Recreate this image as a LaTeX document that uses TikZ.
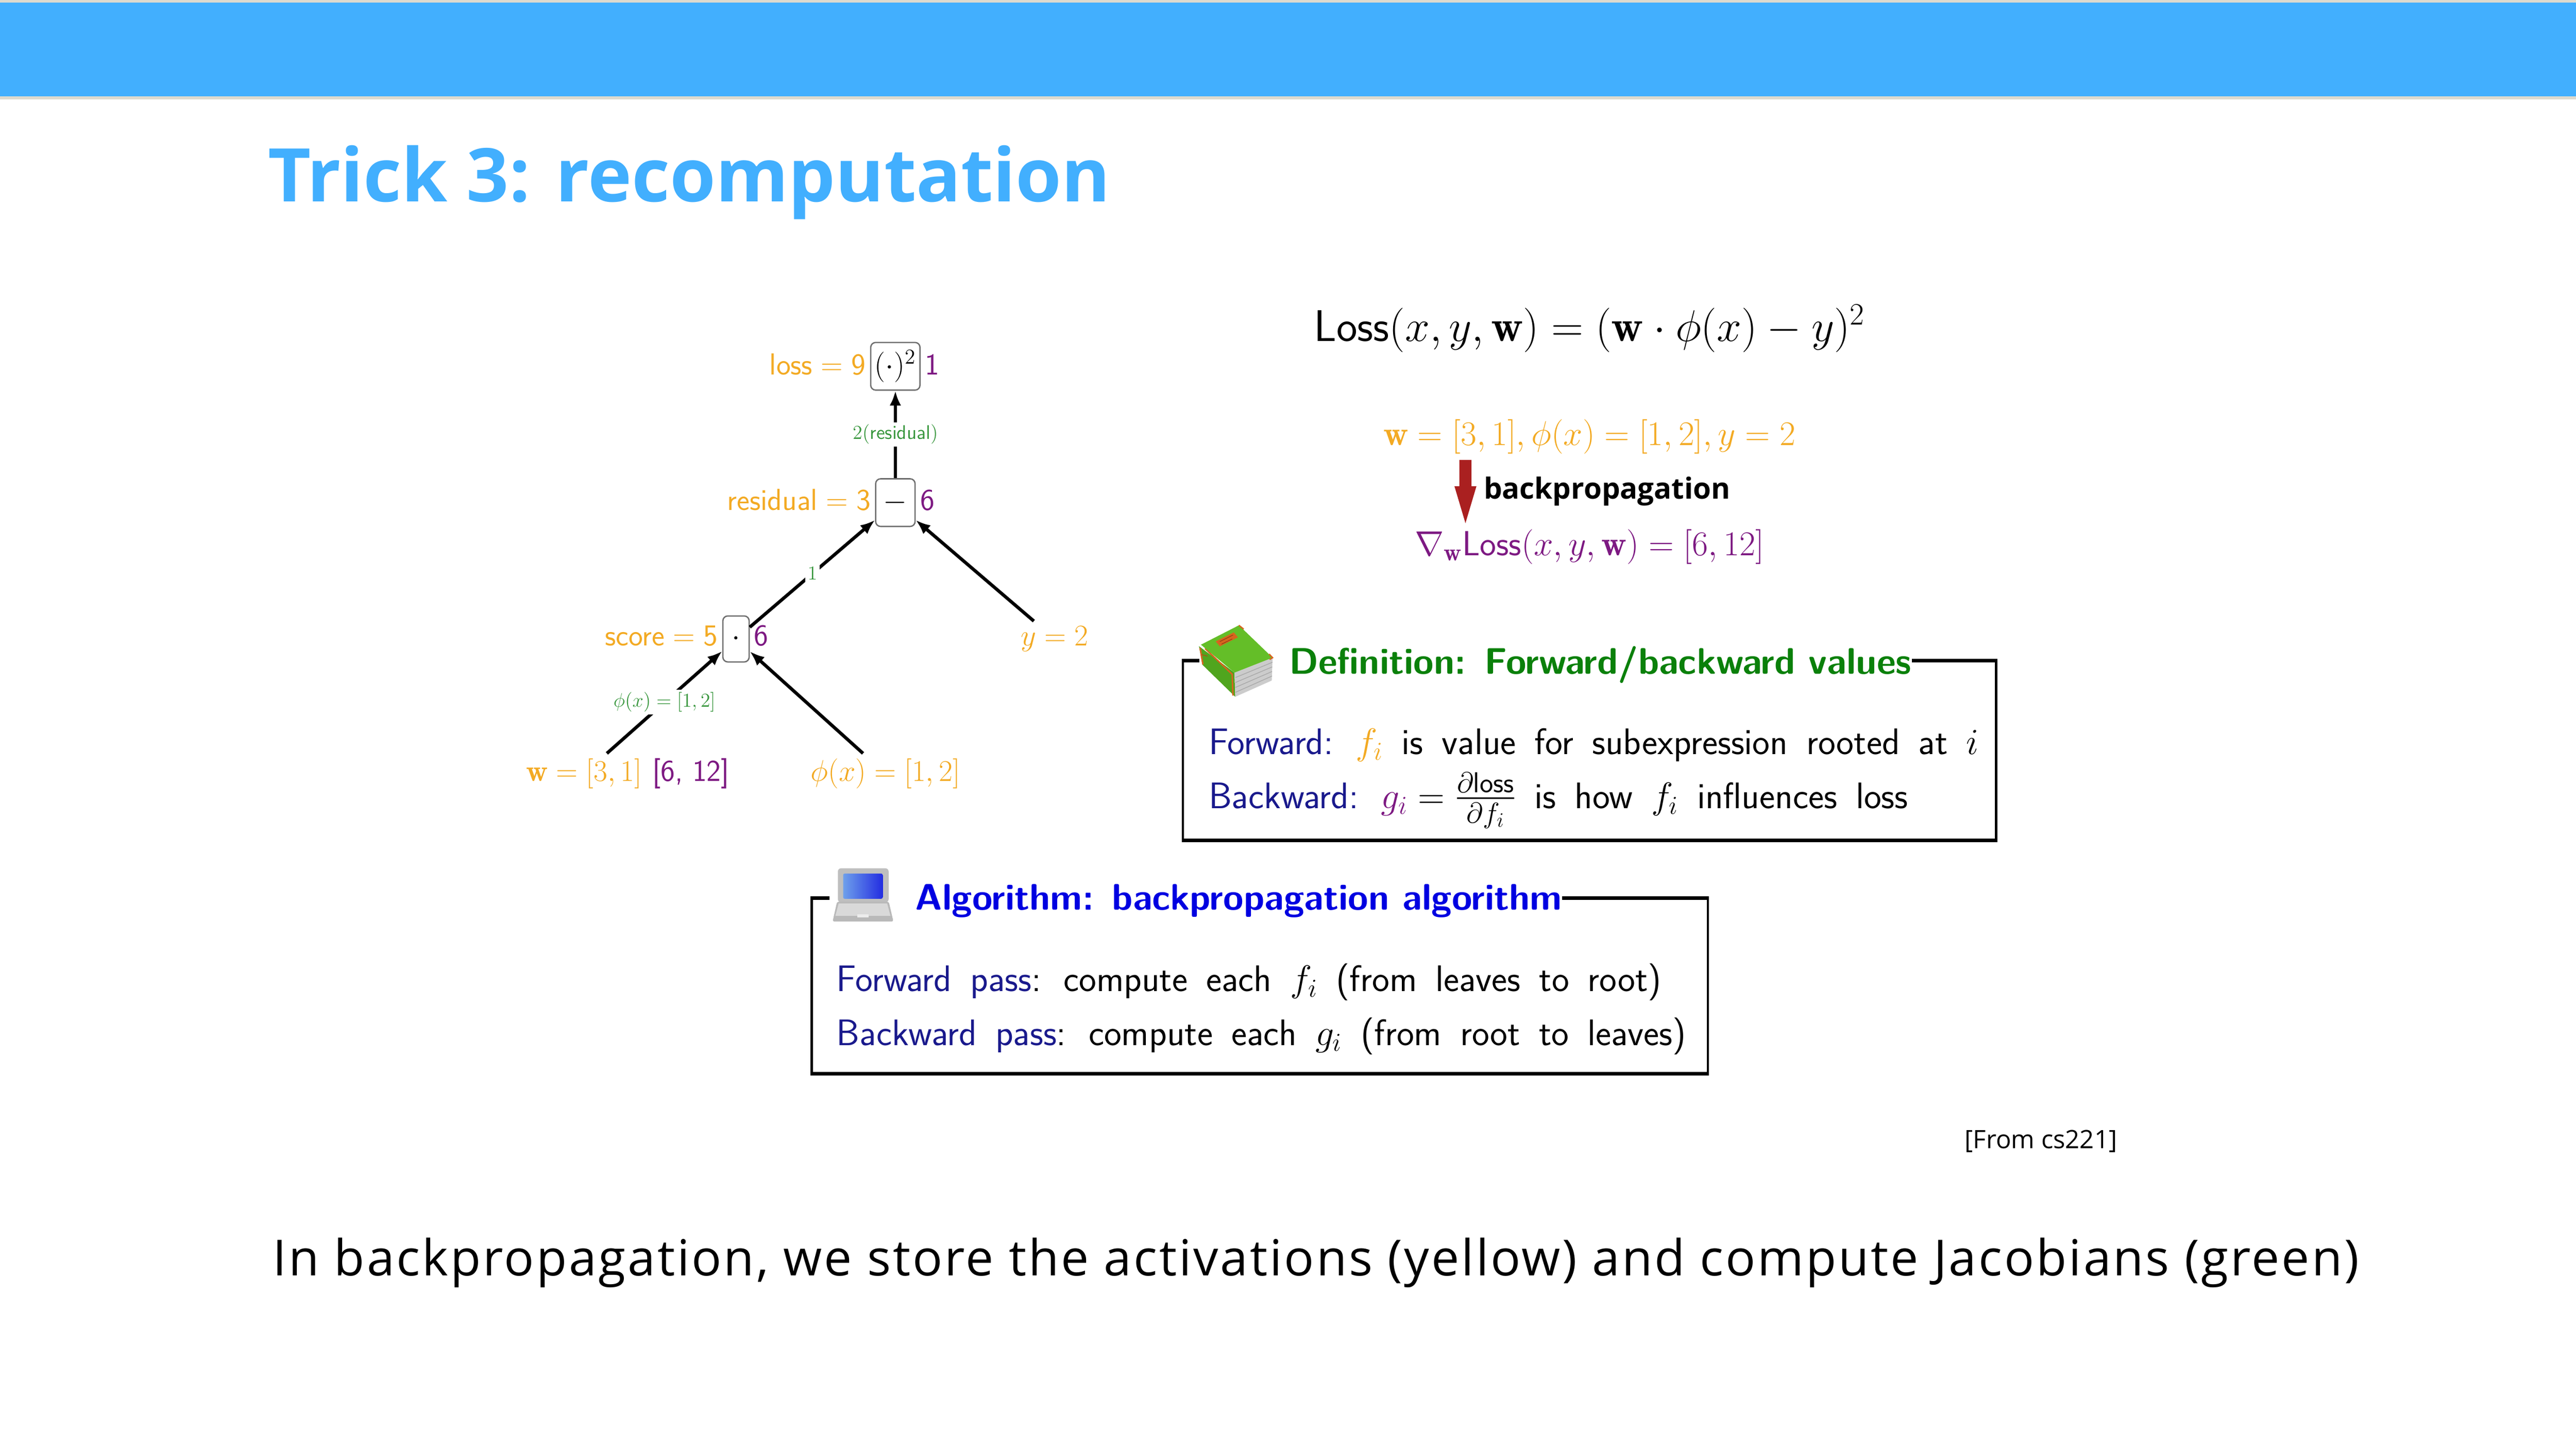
\documentclass[tikz,border=0pt]{standalone}
\usepackage{fix-cm}
\usepackage{amsmath}
\usepackage{fontspec}
\newfontfamily\slidefont{Open Sans}
\newfontfamily\capfont[LetterSpace=4.05]{Open Sans}
\usetikzlibrary{arrows.meta,calc}
\newcommand{\widespaces}{\spaceskip=11.3pt plus 2pt minus 1pt\relax}
\definecolor{barblue}{RGB}{66,175,254}
\definecolor{baredge}{RGB}{221,218,206}
\definecolor{fwdorange}{RGB}{243,170,35}
\definecolor{bwdpurple}{RGB}{125,25,130}
\definecolor{labgreen}{RGB}{55,150,60}
\definecolor{defgreen}{RGB}{10,128,10}
\definecolor{navyblue}{RGB}{25,25,140}
\definecolor{algblue}{RGB}{0,0,225}
\definecolor{arrowred}{RGB}{170,32,32}
\definecolor{boxgray}{RGB}{110,110,110}
\definecolor{bookgreen}{RGB}{100,190,40}
\definecolor{bookspine}{RGB}{80,165,30}
\definecolor{bookorange}{RGB}{215,100,30}
\definecolor{screenlight}{RGB}{110,160,235}
\definecolor{screendark}{RGB}{35,45,225}
\begin{document}
\begin{tikzpicture}[x=1pt,y=-1pt,
  treetxt/.style={font=\fontsize{18.5}{22}\selectfont\sffamily, inner sep=0},
  fwd/.style={treetxt, text=fwdorange},
  bwd/.style={treetxt, text=bwdpurple},
  opbox/.style={draw=boxgray, line width=0.8, rounded corners=3, inner sep=0, font=\fontsize{18.5}{22}\selectfont},
  leaf/.style={font=\fontsize{18.3}{22}\selectfont\sffamily, text=fwdorange, inner sep=3},
  edge/.style={line width=2, -{Latex[length=9pt,width=7pt]}},
  elab/.style={fill=white, inner sep=1.5, text=labgreen, font=\fontsize{12}{14}\selectfont\sffamily},
  bodytxt/.style={font=\fontsize{22.5}{27}\selectfont\sffamily, inner sep=0, anchor=base west},
  blocktitle/.style={font=\fontsize{22.5}{27}\selectfont\sffamily\bfseries, inner sep=0, anchor=base west},
  frameside/.style={line width=1.4},
  frametop/.style={line width=2.2},
]
\path[use as bounding box, fill=white] (0,0) rectangle (1568,882);
% header bar
\fill[baredge] (0,0) rectangle (1568,60.5);
\fill[barblue] (0,1.6) rectangle (1568,58.8);
\node[anchor=base west, inner sep=0, text=barblue, font=\fontsize{45.1}{53}\selectfont\slidefont\bfseries] (title) at (163,122.8) {Trick 3: recomputation};

% ---------- computation graph ----------
\node[opbox, minimum width=30, minimum height=29] (loss) at (545,223) {$(\cdot)^2$};
\node[opbox, minimum width=24, minimum height=29] (res) at (545,306) {$-$};
\node[opbox, minimum width=16, minimum height=28] (score) at (448,389) {$\cdot$};
\node[fwd, anchor=base east] (lossv) at ([xshift=-2.5]loss.base west) {loss${}={}$9};
\node[bwd, anchor=base west] (lossg) at ([xshift=2.5]loss.base east) {1};
\node[fwd, anchor=base east] (resv) at ([xshift=-2.5]res.base west) {residual${}={}$3};
\node[bwd, anchor=base west] (resg) at ([xshift=2.5]res.base east) {6};
\node[fwd, anchor=base east] (scorev) at ([xshift=-2.5]score.base west) {score${}={}$5};
\node[bwd, anchor=base west] (scoreg) at ([xshift=2.5]score.base east) {6};
\node[leaf] (wleaf) at (355.5,471) {$\mathbf{w}=[3,1]$};
\node[bwd, anchor=base west] (wgrad) at ([xshift=3]wleaf.base east) {[6, 12]};
\node[leaf] (phileaf) at (539,471) {$\phi(x)=[1,2]$};
\node[leaf] (yleaf) at (642,389) {$y=2$};
\draw[edge] (res) -- node[elab]{$2($residual$)$} (loss);
\draw[edge] (score) -- node[elab]{$1$} (res);
\draw[edge] (yleaf) -- (res);
\draw[edge] (wleaf) -- node[elab]{$\phi(x)=[1,2]$} (score);
\draw[edge] (phileaf) -- (score);

% ---------- loss formula ----------
\node[font=\fontsize{27}{32}\selectfont\sffamily, inner sep=0] (lossdef) at (967.5,200) {Loss$(x,y,\mathbf{w}) = (\mathbf{w}\cdot\phi(x)-y)^2$};
\node[font=\fontsize{21}{25}\selectfont, text=fwdorange, inner sep=0] (vals) at (967.5,266) {$\mathbf{w}=[3,1],\phi(x)=[1,2],y=2$};
\fill[arrowred] (888.3,280) -- (895.7,280) -- (895.7,296) -- (898.7,296) -- (892,318.5) -- (885.3,296) -- (888.3,296) -- cycle;
\node[anchor=west, font=\fontsize{17.7}{21}\selectfont\slidefont\bfseries, inner sep=0] (bp) at (903,299) {backpropagation};
\node[font=\fontsize{21.2}{25}\selectfont\sffamily, text=bwdpurple, inner sep=0] (grad) at (967.5,333) {$\nabla_{\mathbf{w}}$Loss$(x,y,\mathbf{w})=[6,12]$};

% ---------- definition block ----------
\node[blocktitle, text=defgreen] (deftitle) at (784.5,410.4) {Definition:\enspace Forward/backward values};
\draw[frameside] (720,402.2) -- (720,511.7);
\draw[frameside] (1215,402.2) -- (1215,511.7);
\draw[frametop] (719.3,511.7) -- (1215.7,511.7);
\draw[frametop] (719.3,402.2) -- (730,402.2);
\draw[frametop] (deftitle.east |- 0,402.2) -- (1215.7,402.2);
% book icon
\fill[bookspine] (729.8,393.4) -- (751.4,409.5) -- (751.9,424.2) -- (731.9,404.7) -- cycle;
\draw[bookorange, line width=0.9] (730.5,394.5) -- (732.2,404.5);
\draw[bookorange, line width=0.9] (733.5,394.8) -- (750,410.5) -- (750.5,423.5);
\draw[bookorange!80!black, line width=0.5] (731.5,398.5) -- (735,399.5);
\fill[gray!40] (751.4,409.5) -- (774.6,400.4) -- (774.1,414.3) -- (751.9,424.2) -- cycle;
\draw[gray!70, line width=0.4] (752,412.5) -- (774.5,403.2) (752,415.5) -- (774.4,406) (752,418.5) -- (774.3,408.8) (752,421.5) -- (774.2,411.6);
\fill[bookgreen] (731,392.5) -- (754.1,380.7) -- (774.6,400.4) -- (751.4,409.5) -- cycle;
\draw[bookorange, line width=0.8] (754.1,380.7) -- (757,383);
\draw[bookorange, line width=0.8] (772.5,398.2) -- (774.6,400.4) -- (772.8,401.5);
\fill[bookorange] (740,390.5) -- (751,385) -- (753.5,388) -- (742.5,393.5) -- cycle;
\draw[bookorange!60!black, line width=0.3] (742.5,390.6) -- (750.5,386.6) (743.5,392.2) -- (750,389);
\node[bodytxt] (fwdline) at (735.5,459.2) {\widespaces{\color{navyblue}Forward:} ${\color{fwdorange}f_i}$ is value for subexpression rooted at $i$};
\node[bodytxt] (bwdline) at (735.5,492.3) {\widespaces{\color{navyblue}Backward:} ${\color{bwdpurple}g_i} = \mbox{\fontsize{25}{28}\selectfont$\frac{\partial\text{loss}}{\partial f_i}$}$ is how $f_i$ influences loss};

% ---------- algorithm block ----------
\node[blocktitle, text=algblue] (algtitle) at (557,554) {Algorithm:\enspace backpropagation algorithm};
\draw[frameside] (494,546.7) -- (494,653.6);
\draw[frameside] (1039.6,546.7) -- (1039.6,653.6);
\draw[frametop] (493.3,653.6) -- (1040.3,653.6);
\draw[frametop] (493.3,546.7) -- (505,546.7);
\draw[frametop] (algtitle.east |- 0,546.7) -- (1040.3,546.7);
% laptop icon
\fill[gray!50, rounded corners=2] (510,528.6) rectangle (540.9,549.4);
\shade[left color=screenlight, right color=screendark, rounded corners=1] (513.2,531.8) rectangle (537.3,547.2);
\fill[gray!55, rounded corners=1] (509.5,549) -- (541,549) -- (543.8,561) -- (506.8,561) -- cycle;
\fill[gray!30] (510.5,550) -- (540,550) -- (542,557.5) -- (508.5,557.5) -- cycle;
\fill[white!85!gray] (521.8,556.5) rectangle (528.6,558.5);
\node[bodytxt] (fpass) at (509,603.5) {\widespaces{\color{navyblue}Forward pass}: compute each $f_i$ (from leaves to root)};
\node[bodytxt] (bpass) at (509,636.5) {\widespaces{\color{navyblue}Backward pass}: compute each $g_i$ (from root to leaves)};

% ---------- footer texts ----------
\node[anchor=base west, inner sep=0, font=\fontsize{15.4}{18}\selectfont\slidefont] (src) at (1195.7,699.2) {[From cs221]};
\node[anchor=base, inner sep=0, font=\fontsize{30.3}{36}\selectfont\capfont] (caption) at (801,776.7) {In backpropagation, we store the activations (yellow) and compute Jacobians (green)};
\end{tikzpicture}
\end{document}
